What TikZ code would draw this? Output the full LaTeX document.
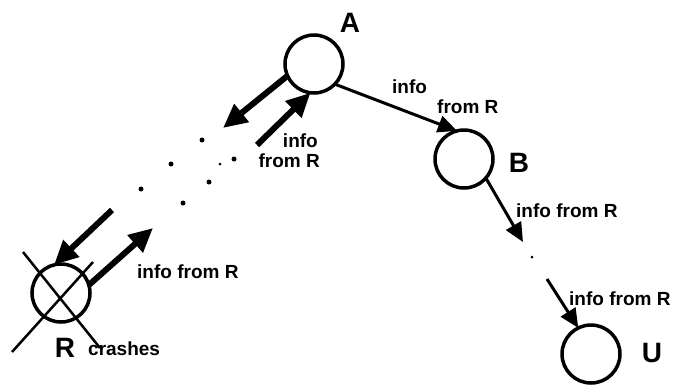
\documentclass[tikz,border=0pt]{standalone}
\usepackage{fontspec}
\setmainfont{Liberation Sans}
\usetikzlibrary{arrows.meta}
\begin{document}
\begin{tikzpicture}[x=1pt,y=-1pt,
  proc/.style={circle,draw,line width=3.5pt,minimum size=58pt,inner sep=0pt,outer sep=0pt},
  big/.style={font=\fontsize{28}{28}\selectfont\bfseries,inner sep=0pt},
  lbl/.style={font=\fontsize{19}{19}\selectfont\bfseries,inner sep=0pt},
  smallarrow/.style={line width=3pt,-{Triangle[length=19pt,width=17pt]}},
  bigarrow/.style={line width=6pt,-{Triangle[length=24pt,width=22pt]}},
  dotnode/.style={circle,fill,inner sep=0pt,minimum size=5pt},
  tinydot/.style={circle,fill,inner sep=0pt,minimum size=3pt},
  crossline/.style={line width=2.5pt}]
\useasboundingbox (0,0) rectangle (673,386);

% processes
\node[proc] (A) at (314,64) {};
\node[proc] (B) at (464,159) {};
\node[proc] (U) at (591,354) {};
\node[proc] (R) at (61,293) {};

% labels of processes
\node[big,anchor=base] (lA) at (350,32) {A};
\node[big,anchor=base] (lB) at (519,172) {B};
\node[big,anchor=base] (lU) at (652,362) {U};
\node[big,anchor=base] (lR) at (65,357) {R};
\node[lbl,anchor=base west] (lcr) at (88,355) {crashes};

% cross over R
\draw[crossline] (23,252) -- (100,348);
\draw[crossline] (93,262) -- (12,352);

% dots between R and A
\node[dotnode] (d1) at (202,140) {};
\node[dotnode] (d2) at (171,164) {};
\node[dotnode] (d3) at (141,189) {};
\node[dotnode] (d4) at (234,159) {};
\node[tinydot] (d5) at (220,164) {};
\node[dotnode] (d6) at (209,182) {};
\node[dotnode] (d7) at (183,203) {};
\node[tinydot] (d8) at (532,257) {};

% arrows near A
\coordinate (a1) at (223,128);
\coordinate (a2) at (257,145);
\draw[bigarrow] (A.204) -- (a1);
\draw[bigarrow] (a2) -- (A.263);
\node[lbl,anchor=base east] (ia1) at (318,147) {info};
\node[lbl,anchor=base east] (ia2) at (320,167) {from R};

% arrows near R
\coordinate (r1) at (112,210);
\coordinate (r2) at (153,228);
\draw[bigarrow] (r1) -- (R.104);
\draw[bigarrow] (R.16) -- (r2);
\node[lbl,anchor=base west] (ir) at (137,278) {info from R};

% A -> B
\draw[smallarrow] (A.-44) -- (B.104);
\node[lbl,anchor=base west] (iab1) at (392,93) {info};
\node[lbl,anchor=base west] (iab2) at (437,113) {from R};

% B -> dot
\coordinate (b1) at (523,242);
\draw[smallarrow] (B.-41) -- (b1);
\node[lbl,anchor=base west] (ib) at (516,217) {info from R};

% dot -> U
\coordinate (u1) at (547,279);
\draw[smallarrow] (u1) -- (U.116);
\node[lbl,anchor=base west] (iu) at (569,305) {info from R};
\end{tikzpicture}
\end{document}
